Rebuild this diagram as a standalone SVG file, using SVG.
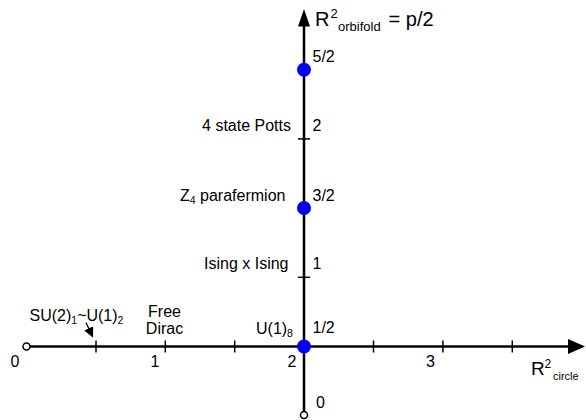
<svg xmlns="http://www.w3.org/2000/svg" width="586" height="420" viewBox="0 0 586 420">
<style>
text{font-family:"Liberation Sans",Arial,sans-serif;font-size:16px;fill:#000}
.end{text-anchor:end}
.mid{text-anchor:middle}
.sub{font-size:10.5px}
.axis{stroke:#000;stroke-width:2.5;fill:none}
.tick{stroke:#000;stroke-width:1.5}
.dot{fill:#0000ff}
.open{fill:#fff;stroke:#000;stroke-width:1.5}
</style>
<defs>
<marker id="ah" viewBox="0 0 10 10" refX="9" refY="5" markerWidth="10" markerHeight="10" markerUnits="userSpaceOnUse" orient="auto">
<path d="M0,0L10,5L0,10z" fill="#000"/>
</marker>
</defs>
<rect width="586" height="420" fill="#fff"/>
<g id="connectors">
<line class="axis" x1="26.5" y1="346.5" x2="569" y2="346.5"/>
<polygon points="585,346.5 568,339 568,354" fill="#000"/>
<line class="axis" x1="304" y1="415" x2="304" y2="25"/>
<polygon points="304,9 298,26.5 310,26.5" fill="#000"/>
<g class="tick">
<line x1="96" y1="340.5" x2="96" y2="352.5"/>
<line x1="165.3" y1="340.5" x2="165.3" y2="352.5"/>
<line x1="234.7" y1="340.5" x2="234.7" y2="352.5"/>
<line x1="373.5" y1="340.5" x2="373.5" y2="352.5"/>
<line x1="442.9" y1="340.5" x2="442.9" y2="352.5"/>
<line x1="512.3" y1="340.5" x2="512.3" y2="352.5"/>
<line x1="298" y1="138.9" x2="310" y2="138.9"/>
<line x1="298" y1="277.3" x2="310" y2="277.3"/>
</g>
<line x1="86" y1="322.5" x2="92.5" y2="336.5" stroke="#000" stroke-width="1.3" marker-end="url(#ah)"/>
</g>
<g id="origin-h"><circle class="open" cx="26.5" cy="346.5" r="3.5"/></g>
<g id="origin-v"><circle class="open" cx="304" cy="415" r="3.5"/></g>
<g id="p52"><circle class="dot" cx="304" cy="69.7" r="7"/></g>
<g id="p32"><circle class="dot" cx="304" cy="208" r="7"/></g>
<g id="p12"><circle class="dot" cx="304" cy="346.5" r="7"/></g>
<g id="axis-labels">
<text class="mid" x="15" y="366.5">0</text>
<text class="mid" x="155" y="366.5">1</text>
<text class="mid" x="292" y="366.5">2</text>
<text class="mid" x="430.5" y="366.5">3</text>
<text x="312.5" y="61.7">5/2</text>
<text x="312.5" y="130.7">2</text>
<text x="312.5" y="200.7">3/2</text>
<text x="312.5" y="269.3">1</text>
<text x="312.5" y="332.5">1/2</text>
<text x="316" y="408">0</text>
</g>
<g id="title-v">
<text x="315" y="26" style="font-size:20px">R<tspan x="330.5" y="17.7" style="font-size:13px">2</tspan><tspan x="338" y="31" style="font-size:13px">orbifold</tspan><tspan x="383" y="26"> = p/2</tspan></text>
</g>
<g id="title-h">
<text x="531" y="375" style="font-size:19px">R<tspan x="544.5" y="368" style="font-size:12px">2</tspan><tspan x="553" y="379.5" style="font-size:11px">circle</tspan></text>
</g>
<g id="potts"><text class="end" x="291" y="130.7">4 state Potts</text></g>
<g id="z4"><text x="180" y="200.7">Z<tspan class="sub" dy="3">4</tspan><tspan dy="-3"> parafermion</tspan></text></g>
<g id="ising"><text class="end" x="288.5" y="269.3">Ising x Ising</text></g>
<g id="su2"><text x="29.5" y="320.5">SU(2)<tspan class="sub" dy="3">1</tspan><tspan dy="-3">~U(1)</tspan><tspan class="sub" dy="3">2</tspan></text></g>
<g id="dirac"><text class="mid" x="164.5" y="316.7">Free</text><text class="mid" x="164.5" y="334.3">Dirac</text></g>
<g id="u18"><text x="256" y="334">U(1)<tspan class="sub" dy="3">8</tspan></text></g>
</svg>
